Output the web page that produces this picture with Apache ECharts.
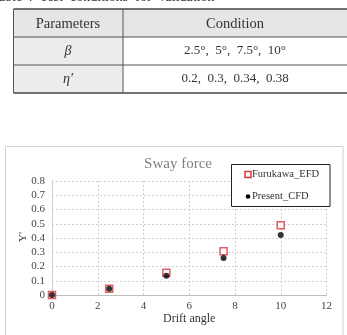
<!DOCTYPE html>
<html><head><meta charset="utf-8">
<script src="https://cdn.jsdelivr.net/npm/echarts@6/dist/echarts.min.js"></script>
<style>html,body{margin:0;padding:0;background:#fff}#c{width:347px;height:335px}</style>
</head><body><div id="c"></div>
<script>
var driftAngle = [0, 2.5, 5, 7.5, 10];
var furukawaEFD = [0, 0.044, 0.157, 0.307, 0.489];
var presentCFD = [0, 0.044, 0.135, 0.26, 0.421];
var tableHeader = ['Parameters', 'Condition'];
var tableParams = ['\u03B2', '\u03B7\u2032'];
var tableConds = ['2.5\u00B0,  5\u00B0,  7.5\u00B0,  10\u00B0', '0.2,  0.3,  0.34,  0.38'];

var serif = '"Liberation Serif", "DejaVu Serif", serif';
var chart = echarts.init(document.getElementById('c'));
var rowY = [9, 37, 65, 93];
var g = [];
// caption
g.push({type:'text', left:-1, top:-10, style:{text:'able 4  Test  conditions  for  validation', font:'14px ' + serif, fill:'#333'}});
// table backgrounds
g.push({type:'rect', shape:{x:13.5, y:9, width:334, height:28}, style:{fill:'#e6e6e6'}});
g.push({type:'rect', shape:{x:13.5, y:37, width:109.5, height:56}, style:{fill:'#ececec'}});
// lines
g.push({type:'line', shape:{x1:13.5,y1:9,x2:347,y2:9}, style:{stroke:'#444', lineWidth:1.5}});
g.push({type:'line', shape:{x1:13.5,y1:37,x2:347,y2:37}, style:{stroke:'#555', lineWidth:1}});
g.push({type:'line', shape:{x1:13.5,y1:65,x2:347,y2:65}, style:{stroke:'#555', lineWidth:1}});
g.push({type:'line', shape:{x1:13.5,y1:93,x2:347,y2:93}, style:{stroke:'#444', lineWidth:1.5}});
g.push({type:'line', shape:{x1:13.5,y1:9,x2:13.5,y2:93}, style:{stroke:'#555', lineWidth:1}});
g.push({type:'line', shape:{x1:123,y1:9,x2:123,y2:93}, style:{stroke:'#555', lineWidth:1}});
// header texts
g.push({type:'text', x:68, y:24, style:{text:tableHeader[0], font:'14.5px ' + serif, fill:'#333', textAlign:'center', textVerticalAlign:'middle'}});
g.push({type:'text', x:235, y:24, style:{text:tableHeader[1], font:'14.5px ' + serif, fill:'#333', textAlign:'center', textVerticalAlign:'middle'}});
for (var i = 0; i < 2; i++) {
  var cy = (rowY[i+1] + rowY[i+2]) / 2;
  g.push({type:'text', x:68, y:cy, style:{text:tableParams[i], font:'italic 14px ' + serif, fill:'#333', textAlign:'center', textVerticalAlign:'middle'}});
  g.push({type:'text', x:235, y:cy, style:{text:tableConds[i], font:'13px ' + serif, fill:'#333', textAlign:'center', textVerticalAlign:'middle'}});
}
// chart border
g.push({type:'rect', shape:{x:5.5, y:146.5, width:337.5, height:200}, style:{fill:'none', stroke:'#d0d0d0', lineWidth:1}});
// y axis title
g.push({type:'text', x:23, y:237, rotation:Math.PI/2, style:{text:'Y\'', font:'11px ' + serif, fill:'#333', textAlign:'center', textVerticalAlign:'middle'}});
// legend box
g.push({type:'rect', z:10, shape:{x:231.5, y:164.5, width:98.5, height:42}, style:{fill:'#fff', stroke:'#222', lineWidth:1}});
g.push({type:'rect', z:11, shape:{x:245, y:171.5, width:6, height:6}, style:{fill:'#fff', stroke:'#d9343a', lineWidth:1.5}});
g.push({type:'text', z:11, x:252, y:174.5, style:{text:'Furukawa_EFD', font:'10.5px ' + serif, fill:'#333', textVerticalAlign:'middle'}});
g.push({type:'circle', z:11, shape:{cx:248, cy:196.5, r:2.3}, style:{fill:'#000'}});
g.push({type:'text', z:11, x:252, y:196.5, style:{text:'Present_CFD', font:'10.5px ' + serif, fill:'#333', textVerticalAlign:'middle'}});

function pairs(xs, ys){ return xs.map(function(x,i){return [x, ys[i]];}); }

chart.setOption({
  animation:false,
  title:{text:'Sway force', left:173, top:152, textAlign:'center', textStyle:{fontFamily:serif, fontSize:15, fontWeight:'normal', color:'#7f7f7f'}},
  grid:{left:52, right:20.5, top:181, bottom:40},
  xAxis:{type:'value', min:0, max:12, interval:2, name:'Drift angle', nameLocation:'middle', nameGap:18,
    nameTextStyle:{fontFamily:serif, fontSize:12, color:'#333'},
    axisLine:{show:true, lineStyle:{color:'#bfbfbf'}}, axisTick:{show:false},
    axisLabel:{fontFamily:serif, fontSize:11, color:'#444', margin:6},
    splitLine:{show:true, lineStyle:{type:[2,2], color:'#d0d0d0'}}},
  yAxis:{type:'value', min:0, max:0.8, interval:0.1,
    axisLine:{show:true, lineStyle:{color:'#d0d0d0'}}, axisTick:{show:false},
    axisLabel:{fontFamily:serif, fontSize:11, color:'#444', margin:7},
    splitLine:{show:true, lineStyle:{type:[2,2], color:'#d0d0d0'}}},
  series:[
    {name:'Furukawa_EFD', type:'scatter', data:pairs(driftAngle, furukawaEFD), symbol:'rect', symbolSize:7,
      itemStyle:{color:'#fff', borderColor:'#d9343a', borderWidth:1.5}, z:2},
    {name:'Present_CFD', type:'scatter', data:pairs(driftAngle, presentCFD), symbol:'circle', symbolSize:6,
      itemStyle:{color:'#000'}, z:3}
  ],
  graphic:g
});
</script></body></html>
